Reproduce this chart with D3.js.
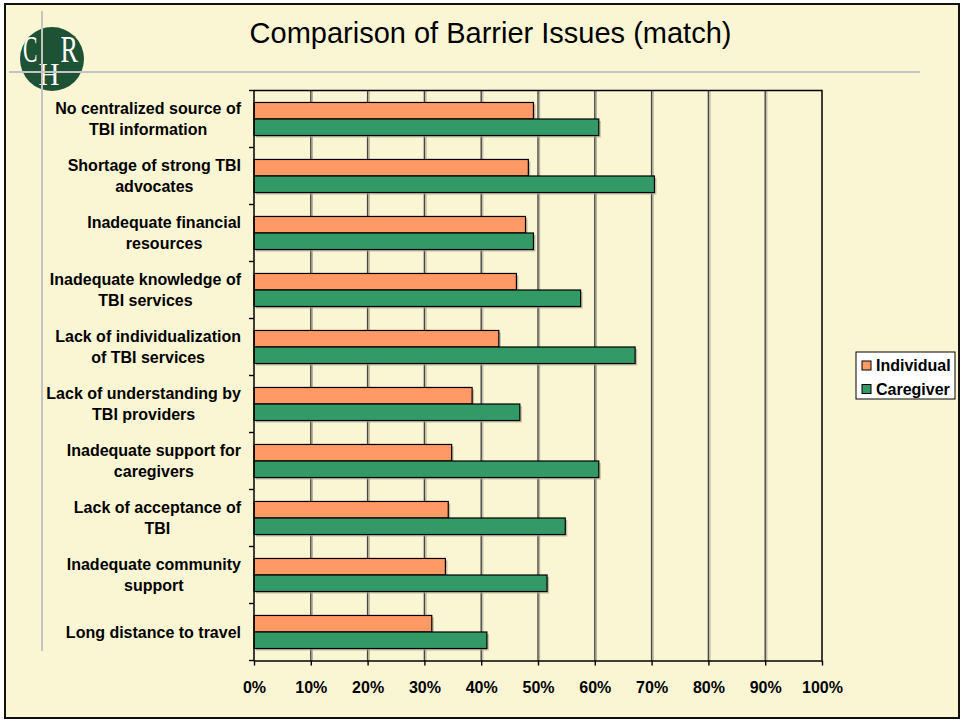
<!DOCTYPE html>
<html>
<head>
<meta charset="utf-8">
<script src="https://cdn.jsdelivr.net/npm/d3@7"></script>
<style>
  html, body { margin: 0; padding: 0; background: #fff; }
  svg text { font-family: Arial, "Liberation Sans", sans-serif; }
</style>
</head>
<body>
<div id="chart"></div>
<script>
// chart data
var categories = [
  "No centralized source of\nTBI information",
  "Shortage of strong TBI\nadvocates",
  "Inadequate financial\nresources",
  "Inadequate knowledge of\nTBI services",
  "Lack of individualization\nof TBI services",
  "Lack of understanding by\nTBI providers",
  "Inadequate support for\ncaregivers",
  "Lack of acceptance of\nTBI",
  "Inadequate community\nsupport",
  "Long distance to travel"
];
var seriesNames = ["Individual", "Caregiver"];
var individual = [49.2, 48.3, 47.8, 46.2, 43.1, 38.4, 34.8, 34.2, 33.7, 31.3];
var caregiver  = [60.7, 70.5, 49.2, 57.5, 67.1, 46.8, 60.7, 54.8, 51.6, 41.0];
var xTicks = [0, 10, 20, 30, 40, 50, 60, 70, 80, 90, 100];
var colors = ["#FF9966", "#339966"];

var W = 964, H = 721;
var margin = {top: 90.5, right: 142, bottom: 60.5, left: 254};
var width = W - margin.left - margin.right;
var height = H - margin.top - margin.bottom;

var svg = d3.select("#chart").append("svg")
  .attr("width", W)
  .attr("height", H);

// slide background + frame
svg.append("rect")
  .attr("x", 5).attr("y", 4)
  .attr("width", 954).attr("height", 714)
  .attr("fill", "#FAF6D4")
  .attr("stroke", "#111")
  .attr("stroke-width", 2);

// logo, letters squeezed with transforms
var logo = svg.append("g");
logo.append("circle")
  .attr("cx", 52).attr("cy", 59).attr("r", 32)
  .attr("fill", "#1E5234");
var serif = "'Liberation Serif', 'DejaVu Serif', serif";
var letters = [
  {t: "C", x: 23, y: 62, fs: 37, w: 14.5},
  {t: "R", x: 60.5, y: 62, fs: 37, w: 17.5},
  {t: "H", x: 38.5, y: 85, fs: 31, w: 21}
];
logo.selectAll(".ltr")
  .data(letters)
  .enter().append("text")
  .text(function (d) { return d.t; })
  .style("font-family", serif)
  .style("font-size", function (d) { return d.fs + "px"; })
  .attr("fill", "#fff")
  .each(function (d) {
    var nat = this.getComputedTextLength();
    d3.select(this).attr("transform",
      "translate(" + d.x + "," + d.y + ") scale(" + (d.w / nat) + ",1)");
  });
logo.append("line")
  .attr("x1", 42).attr("x2", 42).attr("y1", 11).attr("y2", 651)
  .attr("stroke", "#C4C4C4").attr("stroke-width", 2);
logo.append("line")
  .attr("x1", 9).attr("x2", 920).attr("y1", 72).attr("y2", 72)
  .attr("stroke", "#C4C4C4").attr("stroke-width", 2);

// title
svg.append("text")
  .attr("x", 490.5).attr("y", 43)
  .attr("text-anchor", "middle")
  .style("font-size", "29px")
  .attr("fill", "#000")
  .text("Comparison of Barrier Issues (match)");

var g = svg.append("g")
  .attr("transform", "translate(" + margin.left + "," + margin.top + ")");

var x = d3.scaleLinear().domain([0, 100]).range([0, width]);

var y = d3.scaleBand()
  .domain(categories)
  .range([0, height])
  .paddingInner(0.42)
  .paddingOuter(0.21);

var ySub = d3.scaleBand()
  .domain(seriesNames)
  .range([0, y.bandwidth()]);

// gridlines with a soft shadow
var grid = xTicks.filter(function (d) { return d > 0 && d < 100; });
g.selectAll(".gridShadow")
  .data(grid)
  .enter().append("line")
  .attr("x1", function (d) { return x(d) + 1.6; })
  .attr("x2", function (d) { return x(d) + 1.6; })
  .attr("y1", 0).attr("y2", height)
  .attr("stroke", "#B9B59C").attr("stroke-width", 1.2);
g.selectAll(".grid")
  .data(grid)
  .enter().append("line")
  .attr("x1", function (d) { return x(d); })
  .attr("x2", function (d) { return x(d); })
  .attr("y1", 0).attr("y2", height)
  .attr("stroke", "#444").attr("stroke-width", 1.4);

// plot border (top + right)
g.append("path")
  .attr("d", "M0,0H" + width + "V" + height)
  .attr("fill", "none")
  .attr("stroke", "#000")
  .attr("stroke-width", 1.5);

var rows = categories.map(function (c, i) {
  return {cat: c, vals: [individual[i], caregiver[i]]};
});

var groups = g.selectAll(".grp")
  .data(rows)
  .enter().append("g")
  .attr("transform", function (d) { return "translate(0," + y(d.cat) + ")"; });

var cells = groups.selectAll(".cell")
  .data(function (d) {
    return seriesNames.map(function (s, k) { return {s: s, v: d.vals[k], k: k}; });
  })
  .enter();

// bar shadows
cells.append("rect")
  .attr("x", 2)
  .attr("y", function (d) { return ySub(d.s) + 2; })
  .attr("width", function (d) { return x(d.v); })
  .attr("height", ySub.bandwidth())
  .attr("fill", "#A9A58E")
  .attr("opacity", 0.7);

cells.append("rect")
  .attr("class", "bar")
  .attr("x", 0)
  .attr("y", function (d) { return ySub(d.s); })
  .attr("width", function (d) { return x(d.v); })
  .attr("height", ySub.bandwidth())
  .attr("fill", function (d) { return colors[d.k]; })
  .attr("stroke", "#000")
  .attr("stroke-width", 1.2);

// x axis
var xAxis = d3.axisBottom(x)
  .tickValues(xTicks)
  .tickSize(5)
  .tickSizeOuter(0)
  .tickFormat(function (d) { return d + "%"; });

var xa = g.append("g")
  .attr("transform", "translate(0," + height + ")")
  .call(xAxis);
xa.select(".domain").attr("stroke", "#000").attr("stroke-width", 1.5);
xa.selectAll(".tick line").attr("stroke", "#000").attr("stroke-width", 1.4);
xa.selectAll(".tick text")
  .attr("y", 21)
  .attr("fill", "#000")
  .style("font-size", "16px")
  .style("font-weight", "bold")
  .style("font-family", "Arial, 'Liberation Sans', sans-serif");

// y axis line and ticks at category boundaries
g.append("line")
  .attr("x1", 0).attr("x2", 0).attr("y1", 0).attr("y2", height)
  .attr("stroke", "#000").attr("stroke-width", 1.5);
var bounds = d3.range(categories.length + 1);
g.selectAll(".ytick")
  .data(bounds)
  .enter().append("line")
  .attr("x1", -5).attr("x2", 0)
  .attr("y1", function (i) { return i * y.step(); })
  .attr("y2", function (i) { return i * y.step(); })
  .attr("stroke", "#000").attr("stroke-width", 1.4);

// category labels: block right aligned, lines centred inside it
var lab = g.selectAll(".ylab")
  .data(categories)
  .enter().append("text")
  .attr("class", "ylab")
  .style("font-size", "16px")
  .style("font-weight", "bold")
  .attr("fill", "#000")
  .attr("text-anchor", "middle");

lab.each(function (c) {
  var t = d3.select(this);
  var lines = c.split("\n");
  var cy = y(c) + y.bandwidth() / 2;
  var lh = 21;
  lines.forEach(function (ln, j) {
    t.append("tspan")
      .attr("y", cy + (j - (lines.length - 1) / 2) * lh + 5.5)
      .text(ln);
  });
  var maxW = 0;
  t.selectAll("tspan").each(function () {
    maxW = Math.max(maxW, this.getComputedTextLength());
  });
  t.selectAll("tspan").attr("x", -13 - maxW / 2);
});

// legend
var leg = svg.append("g").attr("transform", "translate(856,352)");
leg.append("rect")
  .attr("width", 99).attr("height", 47)
  .attr("fill", "#fff")
  .attr("stroke", "#000").attr("stroke-width", 1);
var li = leg.selectAll(".li")
  .data(seriesNames)
  .enter().append("g")
  .attr("transform", function (d, i) { return "translate(6," + (9 + i * 23.5) + ")"; });
li.append("rect")
  .attr("width", 9).attr("height", 9)
  .attr("fill", function (d, i) { return colors[i]; })
  .attr("stroke", "#000").attr("stroke-width", 1);
li.append("text")
  .attr("x", 14).attr("y", 10)
  .style("font-size", "16px")
  .style("font-weight", "bold")
  .attr("fill", "#000")
  .text(function (d) { return d; });
</script>
</body>
</html>
